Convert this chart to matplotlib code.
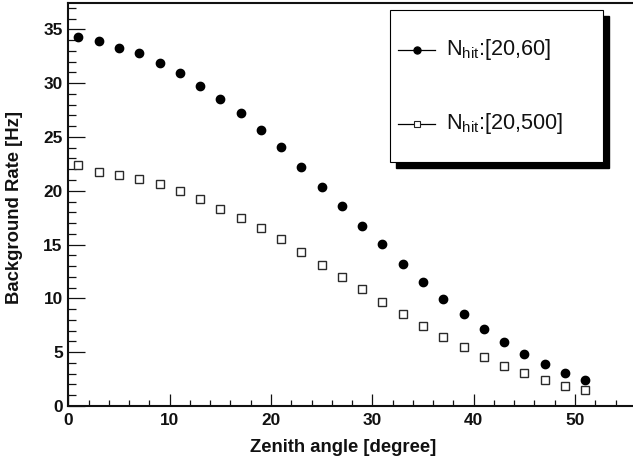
import matplotlib
matplotlib.use("Agg")
import matplotlib.pyplot as plt
from matplotlib.lines import Line2D
from matplotlib.patches import Rectangle
from matplotlib.ticker import MultipleLocator

plt.rcParams['font.family'] = ['Liberation Sans', 'DejaVu Sans']
plt.rcParams['mathtext.fontset'] = 'custom'
plt.rcParams['mathtext.rm'] = 'Liberation Sans'
plt.rcParams['mathtext.it'] = 'Liberation Sans:italic'
plt.rcParams['mathtext.bf'] = 'Liberation Sans:bold'

zenith = [1, 3, 5, 7, 9, 11, 13, 15, 17, 19, 21, 23, 25, 27, 29, 31, 33, 35,
          37, 39, 41, 43, 45, 47, 49, 51]
rate_20_60 = [34.3, 33.95, 33.3, 32.8, 31.9, 30.94, 29.76, 28.5, 27.2, 25.64,
              24.03, 22.2, 20.35, 18.6, 16.7, 15.02, 13.2, 11.52, 9.97, 8.52,
              7.12, 5.92, 4.8, 3.87, 3.07, 2.42]
rate_20_500 = [22.39, 21.77, 21.46, 21.12, 20.63, 19.98, 19.2, 18.33, 17.47,
               16.57, 15.52, 14.31, 13.07, 11.99, 10.84, 9.66, 8.52, 7.43,
               6.41, 5.48, 4.55, 3.72, 3.07, 2.39, 1.89, 1.46]
labels = [r'N$_{\mathrm{hit}}$:[20,60]', r'N$_{\mathrm{hit}}$:[20,500]']

W, H = 633, 462
fig = plt.figure(figsize=(W / 100, H / 100), dpi=100)
ax = fig.add_axes([68.3 / W, 1 - 406 / H, 1 - 68.3 / W, (406 - 3) / H])

ax.plot(zenith, rate_20_60, linestyle='none', marker='o', markersize=6.0,
        color='black', zorder=3)
ax.plot(zenith, rate_20_500, linestyle='none', marker='s', markersize=6.4,
        markerfacecolor='white', markeredgecolor='#2a2a2a',
        markeredgewidth=1.0, zorder=3)

ax.set_xlim(0, 55.72)
ax.set_ylim(0, 37.45)
ax.xaxis.set_major_locator(MultipleLocator(10))
ax.xaxis.set_minor_locator(MultipleLocator(2))
ax.yaxis.set_major_locator(MultipleLocator(5))
ax.yaxis.set_minor_locator(MultipleLocator(1))

for s in ['left', 'bottom', 'top']:
    ax.spines[s].set_linewidth(1.5)
    ax.spines[s].set_color('#111111')
ax.spines['right'].set_visible(False)

ax.tick_params(axis='both', which='both', direction='in', width=0.9,
               colors='#111111', labelsize=12.4)
ax.tick_params(axis='y', which='major', length=12.2, pad=4)
ax.tick_params(axis='y', which='minor', length=5.8)
ax.tick_params(axis='x', which='major', length=8.6, pad=5)
ax.tick_params(axis='x', which='minor', length=4.3)
ax.tick_params(top=False, right=False, which='both')
for lab in ax.get_xticklabels() + ax.get_yticklabels():
    lab.set_fontweight('bold')

fig.text(15 / W, 1 - 208 / H, 'Background Rate [Hz]', rotation=90,
         ha='center', va='center', fontsize=13.3, fontweight='bold',
         color='#111111')
fig.text(343 / W, 1 - 447 / H, 'Zenith angle [degree]', ha='center',
         va='center', fontsize=13.3, fontweight='bold', color='#111111')

# legend (manual, ROOT style box with shadow)
def px(x, y):
    return x / W, 1 - y / H

lx0, ly0, lx1, ly1 = 390, 10, 602.5, 162
sh = 6
fig.add_artist(Rectangle(px(lx0 + sh, ly1 + sh), (lx1 - lx0) / W,
                         (ly1 - ly0) / H, transform=fig.transFigure,
                         facecolor='black', edgecolor='black', zorder=4))
fig.add_artist(Rectangle(px(lx0, ly1), (lx1 - lx0) / W, (ly1 - ly0) / H,
                         transform=fig.transFigure, facecolor='white',
                         edgecolor='black', linewidth=0.8, zorder=5))
entries = [(50, 'o', 'black', 'black', 5.2),
           (124, 's', 'white', '#222222', 5.0)]
for (yy, mk, fc, ec, ms), lab in zip(entries, labels):
    (xa, ya), (xb, _) = px(398, yy), px(435, yy)
    fig.add_artist(Line2D([xa, xb], [ya, ya], transform=fig.transFigure,
                          color='black', linewidth=0.9, zorder=6))
    fig.add_artist(Line2D([(xa + xb) / 2], [ya], transform=fig.transFigure,
                          marker=mk, markersize=ms, markerfacecolor=fc,
                          markeredgecolor=ec, markeredgewidth=0.8,
                          linestyle='none', zorder=7))
    tx, ty = px(446, yy)
    fig.text(tx, ty, lab, ha='left', va='center', fontsize=15.6,
             color='#111111', zorder=7)

fig.savefig('out.png', dpi=100)
